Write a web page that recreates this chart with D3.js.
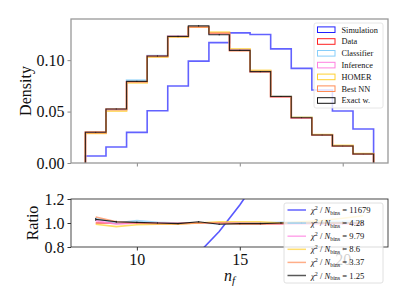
<!DOCTYPE html>
<html>
<head>
<meta charset="utf-8">
<script src="https://cdn.jsdelivr.net/npm/d3@7"></script>
<style>
body { margin: 0; background: #fff; }
text { font-family: "Liberation Serif", "DejaVu Serif", serif; fill: #111; }
</style>
</head>
<body>
<div id="chart"></div>
<script>
// DATA

const binCenters = [8, 9, 10, 11, 12, 13, 14, 15, 16, 17, 18, 19, 20, 21]
const dataHist = [0.029, 0.052, 0.079, 0.104, 0.1236, 0.132, 0.126, 0.110, 0.0893, 0.0647, 0.044, 0.0272, 0.0165, 0.0087]
const simHist = [0.0068, 0.0155, 0.0298, 0.0508, 0.0748, 0.099, 0.117, 0.1265, 0.125, 0.111, 0.092, 0.071, 0.0505, 0.033]

// ratios to data
const classifierRatio = [1.04, 1.0, 1.02, 1.005, 1.0, 1.0, 0.995, 1.0, 1.0, 1.005, 1.01, 1.01, 1.015, 1.02]
const inferenceRatio = [1.02, 0.99, 1.0, 1.0, 0.995, 1.0, 1.0, 1.0, 0.995, 0.99, 0.99, 0.99, 0.99, 0.99]
const homerRatio = [0.99, 0.97, 0.985, 0.99, 0.99, 1.0, 1.01, 1.01, 1.01, 1.0, 1.01, 1.02, 1.04, 1.06]
const bestNNRatio = [1.05, 1.01, 1.0, 0.995, 0.995, 1.0, 1.0, 0.99, 0.99, 0.995, 1.0, 1.0, 1.0, 1.0]
const exactRatio = [1.03, 1.01, 1.005, 1.0, 0.995, 1.01, 0.99, 0.995, 0.995, 1.0, 1.0, 1.0, 1.0, 1.0]
const exactErr = [0.012, 0.008, 0.006, 0.005, 0.005, 0.005, 0.005, 0.005, 0.006, 0.007, 0.008, 0.01, 0.012, 0.015]

const seriesNames = ["Simulation", "Data", "Classifier", "Inference", "HOMER", "Best NN", "Exact w."]
const seriesColors = ["#2020ff", "#ff2020", "#87cefa", "#ff80e0", "#ffd030", "#ff8c55", "#111111"]
const chi2Values = ["11679", "4.28", "9.79", "8.6", "3.37", "1.25"]

const yTicksTop = [0, 0.05, 0.10]
const yTicksBottom = [0.8, 1.0, 1.2]
const xTicks = [10, 15, 20]

// CONSTANTS

const width = 407
const height = 305
const topBox = { left: 71, right: 388, top: 19, bottom: 163 }
const botBox = { left: 71, right: 388, top: 199, bottom: 247 }

const svg = d3.select("#chart").append("svg").attr("width", width).attr("height", height)

// SCALES

const x = d3.scaleLinear().domain([6.8, 22.2]).range([topBox.left, topBox.right])
const yTop = d3.scaleLinear().domain([0, 0.14]).range([topBox.bottom, topBox.top])
const yBot = d3.scaleLinear().domain([0.8, 1.2]).range([botBox.bottom, botBox.top])

// histogram step path from values
function stepPoints(vals) {
    let pts = [[binCenters[0] - 0.5, 0]]
    vals.forEach((v, i) => {
        pts.push([binCenters[i] - 0.5, v])
        pts.push([binCenters[i] + 0.5, v])
    })
    pts.push([binCenters[vals.length - 1] + 0.5, 0])
    return pts
}
const stepLine = d3.line().x(d => x(d[0])).y(d => yTop(d[1]))

const ratios = [
    simHist.map((v, i) => v / dataHist[i]),
    dataHist.map(() => 1),
    classifierRatio, inferenceRatio, homerRatio, bestNNRatio, exactRatio
]
const hists = ratios.map((r, k) => k === 0 ? simHist : dataHist.map((d, i) => d * r[i]))

// TOP PANEL

const defs = svg.append("defs")
defs.append("clipPath").attr("id", "clipTop")
    .append("rect").attr("x", topBox.left).attr("y", topBox.top).attr("width", topBox.right - topBox.left).attr("height", topBox.bottom - topBox.top)
defs.append("clipPath").attr("id", "clipBot")
    .append("rect").attr("x", botBox.left).attr("y", botBox.top).attr("width", botBox.right - botBox.left).attr("height", botBox.bottom - botBox.top)

const topG = svg.append("g").attr("clip-path", "url(#clipTop)")
hists.forEach((h, k) => {
    topG.append("path")
        .attr("d", stepLine(stepPoints(h)))
        .attr("fill", "none")
        .attr("stroke", seriesColors[k])
        .attr("stroke-width", k === 6 ? 1.1 : 1.6)
        .attr("stroke-opacity", k === 6 ? 0.85 : 0.7)
})
// error bars on exact
topG.selectAll(".errTop").data(binCenters).enter().append("line")
    .attr("x1", d => x(d)).attr("x2", d => x(d))
    .attr("y1", (d, i) => yTop(hists[6][i] - exactErr[i] * hists[6][i]))
    .attr("y2", (d, i) => yTop(hists[6][i] + exactErr[i] * hists[6][i]))
    .attr("stroke", "#111").attr("stroke-width", 0.9)

// axes top
const yAxisTop = d3.axisLeft(yTop).tickValues(yTicksTop).tickFormat(d3.format(".2f")).tickSize(3.5).tickPadding(3)
const xAxisTop = d3.axisBottom(x).tickValues(xTicks).tickFormat("").tickSize(3.5)
svg.append("g").attr("transform", `translate(${topBox.left},0)`).call(yAxisTop)
    .call(g => g.select(".domain").remove())
    .call(g => g.selectAll("line").attr("stroke", "#888"))
    .call(g => g.selectAll("text").style("font-size", "16px").attr("fill", "#111"))
svg.append("g").attr("transform", `translate(0,${topBox.bottom})`).call(xAxisTop)
    .call(g => g.select(".domain").remove())
    .call(g => g.selectAll("line").attr("stroke", "#888"))
svg.append("rect").attr("x", topBox.left).attr("y", topBox.top)
    .attr("width", topBox.right - topBox.left).attr("height", topBox.bottom - topBox.top)
    .attr("fill", "none").attr("stroke", "#999").attr("stroke-width", 1.3)

svg.append("text").attr("transform", `translate(31,${(topBox.top + topBox.bottom) / 2}) rotate(-90)`)
    .attr("text-anchor", "middle").style("font-size", "16px").text("Density")

// top legend
const legTop = svg.append("g")
legTop.append("rect").attr("x", 314).attr("y", 23).attr("width", 69).attr("height", 85).attr("rx", 2)
    .attr("fill", "#fff").attr("fill-opacity", 0.8).attr("stroke", "#e0e0e0").attr("stroke-width", 0.8)
seriesNames.forEach((name, i) => {
    const yy = 29.7 + i * 11.8
    legTop.append("rect").attr("x", 317.5).attr("y", yy - 2.8).attr("width", 17.5).attr("height", 5.6)
        .attr("fill", "none").attr("stroke", seriesColors[i]).attr("stroke-width", 1)
    legTop.append("text").attr("x", 341.5).attr("y", yy + 2.8).style("font-size", "8.3px").attr("fill", "#333").text(name)
})

// BOTTOM PANEL

const ratioLine = d3.line().x((d, i) => x(binCenters[i])).y(d => yBot(d))
const botG = svg.append("g").attr("clip-path", "url(#clipBot)")
ratios.forEach((r, k) => {
    botG.append("path")
        .attr("d", ratioLine(r))
        .attr("fill", "none")
        .attr("stroke", seriesColors[k])
        .attr("stroke-width", k === 6 ? 1.1 : 1.6)
        .attr("stroke-opacity", k === 6 ? 0.9 : 0.75)
})
botG.selectAll(".errBot").data(binCenters).enter().append("line")
    .attr("x1", d => x(d)).attr("x2", d => x(d))
    .attr("y1", (d, i) => yBot(exactRatio[i] - exactErr[i]))
    .attr("y2", (d, i) => yBot(exactRatio[i] + exactErr[i]))
    .attr("stroke", "#111").attr("stroke-width", 0.9)

const yAxisBot = d3.axisLeft(yBot).tickValues(yTicksBottom).tickFormat(d3.format(".1f")).tickSize(3.5).tickPadding(3)
const xAxisBot = d3.axisBottom(x).tickValues(xTicks).tickFormat(d3.format("d")).tickSize(3.5).tickPadding(3)
svg.append("g").attr("transform", `translate(${botBox.left},0)`).call(yAxisBot)
    .call(g => g.select(".domain").remove())
    .call(g => g.selectAll("line").attr("stroke", "#333"))
    .call(g => g.selectAll("text").style("font-size", "16px").attr("fill", "#111"))
svg.append("g").attr("transform", `translate(0,${botBox.bottom})`).call(xAxisBot)
    .call(g => g.select(".domain").remove())
    .call(g => g.selectAll("line").attr("stroke", "#333"))
    .call(g => g.selectAll("text").style("font-size", "16px").attr("fill", "#111"))
svg.append("rect").attr("x", botBox.left).attr("y", botBox.top)
    .attr("width", botBox.right - botBox.left).attr("height", botBox.bottom - botBox.top)
    .attr("fill", "none").attr("stroke", "#333").attr("stroke-width", 0.9)

svg.append("text").attr("transform", `translate(38,${(botBox.top + botBox.bottom) / 2}) rotate(-90)`)
    .attr("text-anchor", "middle").style("font-size", "16px").text("Ratio")

const xl = svg.append("text").attr("x", (botBox.left + botBox.right) / 2).attr("y", 281)
    .attr("text-anchor", "middle").style("font-size", "16px")
xl.append("tspan").style("font-style", "italic").text("n")
xl.append("tspan").attr("dy", 3).style("font-size", "11px").style("font-style", "italic").text("f")

// bottom legend
const legBot = svg.append("g")
legBot.append("rect").attr("x", 284).attr("y", 203).attr("width", 99).attr("height", 80).attr("rx", 2)
    .attr("fill", "#fff").attr("fill-opacity", 0.8).attr("stroke", "#d8d8d8").attr("stroke-width", 0.8)
const legKeys = [0, 2, 3, 4, 5, 6]
legKeys.forEach((k, i) => {
    const yy = 210 + i * 13.1
    legBot.append("line").attr("x1", 287.5).attr("x2", 306).attr("y1", yy).attr("y2", yy)
        .attr("stroke", seriesColors[k]).attr("stroke-width", 1.5).attr("stroke-opacity", 0.7)
    const t = legBot.append("text").attr("x", 311).attr("y", yy + 3).style("font-size", "8.6px").attr("fill", "#333")
    t.append("tspan").style("font-style", "italic").text("χ")
    t.append("tspan").attr("dy", -3).style("font-size", "6px").text("2")
    t.append("tspan").attr("dy", 3).text(" / ")
    t.append("tspan").style("font-style", "italic").text("N")
    t.append("tspan").attr("dy", 1.5).style("font-size", "6px").text("bins")
    t.append("tspan").attr("dy", -1.5).text(" = " + chi2Values[i])
})
</script>
</body>
</html>
